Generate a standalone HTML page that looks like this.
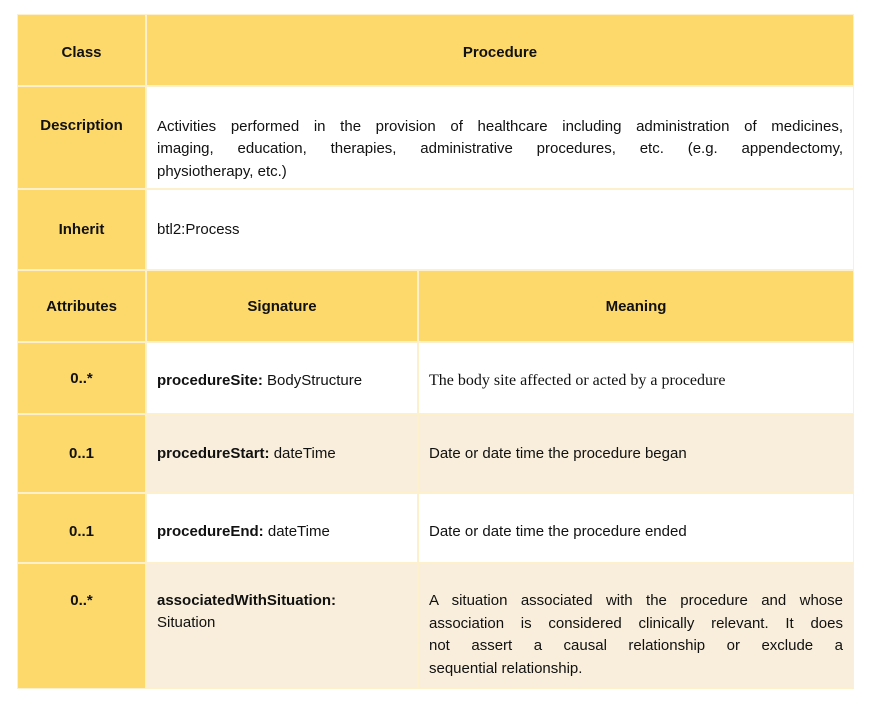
<!DOCTYPE html>
<html><head><meta charset="utf-8"><style>
body{margin:0;width:888px;height:705px;background:#fff;font-family:"Liberation Sans",sans-serif;font-size:15px;color:#111;position:relative;overflow:hidden}
.c{position:absolute;box-sizing:border-box;border:1px solid #fdf0cc;display:flex;align-items:center}
.y{background:#fdd96c;font-weight:bold;justify-content:center;text-align:center}
.w{background:#fff;padding:0 10px}
.b{background:#f8eedb;padding:0 10px}
.t{align-items:flex-start;padding-top:28px}
.j{line-height:22.5px;width:100%}
.j div{text-align:justify;text-align-last:justify;white-space:nowrap}
.j div.l{text-align-last:left}
</style></head><body>
<div class="c y" style="left:17px;top:14px;width:129px;height:72px;padding-top:4px">Class</div>
<div class="c y" style="left:146px;top:14px;width:708px;height:72px;padding-top:4px">Procedure</div>
<div class="c y" style="left:17px;top:86px;width:129px;height:103px;padding-bottom:24px">Description</div>
<div class="c w" style="left:146px;top:86px;width:708px;height:103px;padding-top:24px"><div class="j"><div>Activities performed in the provision of healthcare including administration of medicines,</div><div>imaging, education, therapies, administrative procedures, etc. (e.g. appendectomy,</div><div class="l">physiotherapy, etc.)</div></div></div>
<div class="c y" style="left:17px;top:189px;width:129px;height:81px">Inherit</div>
<div class="c w" style="left:146px;top:189px;width:708px;height:81px">btl2:Process</div>
<div class="c y" style="left:17px;top:270px;width:129px;height:72px">Attributes</div>
<div class="c y" style="left:146px;top:270px;width:272px;height:72px">Signature</div>
<div class="c y" style="left:418px;top:270px;width:436px;height:72px">Meaning</div>
<div class="c y" style="left:17px;top:342px;width:129px;height:72px">0..*</div>
<div class="c w" style="left:146px;top:342px;width:272px;height:72px;padding-top:5px"><span><b>procedureSite:</b> BodyStructure</span></div>
<div class="c w" style="left:418px;top:342px;width:436px;height:72px;padding-top:5px;font-family:'Liberation Serif',serif;font-size:16px">The body site affected or acted by a procedure</div>
<div class="c y" style="left:17px;top:414px;width:129px;height:79px">0..1</div>
<div class="c b" style="left:146px;top:414px;width:272px;height:79px"><span><b>procedureStart:</b> dateTime</span></div>
<div class="c b" style="left:418px;top:414px;width:436px;height:79px">Date or date time the procedure began</div>
<div class="c y" style="left:17px;top:493px;width:129px;height:70px;padding-top:6px">0..1</div>
<div class="c w" style="left:146px;top:493px;width:272px;height:70px;padding-top:6px"><span><b>procedureEnd:</b> dateTime</span></div>
<div class="c w" style="left:418px;top:493px;width:436px;height:70px;padding-top:6px">Date or date time the procedure ended</div>
<div class="c y t" style="left:17px;top:563px;width:129px;height:126px">0..*</div>
<div class="c b t" style="left:146px;top:563px;width:272px;height:126px;padding-top:26px"><div style="line-height:22px"><b>associatedWithSituation:</b><br>Situation</div></div>
<div class="c b t" style="left:418px;top:563px;width:436px;height:126px;padding-top:26px"><div class="j"><div>A situation associated with the procedure and whose</div><div>association is considered clinically relevant. It does</div><div>not assert a causal relationship or exclude a</div><div class="l">sequential relationship.</div></div></div>
</body></html>
